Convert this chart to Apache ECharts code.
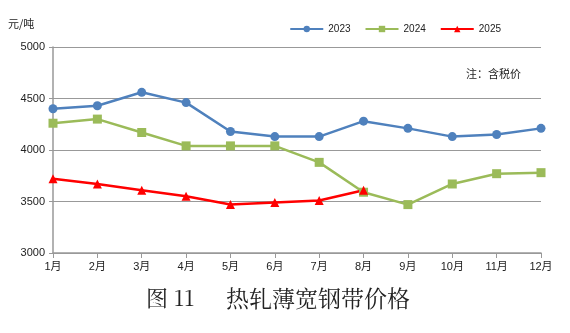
<!DOCTYPE html>
<html><head><meta charset="utf-8">
<script src="https://cdn.jsdelivr.net/npm/echarts@6/dist/echarts.min.js"></script>
<style>html,body{margin:0;padding:0;background:#fff}#c{width:570px;height:333px}</style>
</head><body><div id="c"></div>
<script>
const months = ['1月','2月','3月','4月','5月','6月','7月','8月','9月','10月','11月','12月'];
const s2023 = [4400,4430,4560,4460,4180,4130,4130,4280,4210,4130,4150,4210];
const s2024 = [4260,4300,4170,4040,4040,4040,3880,3590,3470,3670,3770,3780];
const s2025 = [3720,3670,3610,3550,3470,3490,3510,3610];
const chart = echarts.init(document.getElementById('c'));
const font = "'Liberation Sans','Noto Sans CJK SC',sans-serif";
function ser(name, data, color, symbol, size){
  return {name, type:'line', data, symbol, symbolSize:size, showSymbol:true,
    lineStyle:{color, width:2.5}, itemStyle:{color}, animation:false};
}
chart.setOption({
  animation:false,
  grid:{left:53, right:29, top:47, bottom:80},
  legend:{right:64, top:19, itemWidth:33, itemHeight:8, itemGap:14,
    textStyle:{fontSize:10, color:'#222', fontFamily:font},
    data:['2023','2024','2025']},
  graphic:[
    {type:'text', left:8, top:18, style:{text:'元/吨', fontSize:11, fill:'#222', fontFamily:"'Noto Sans CJK SC',sans-serif"}},
    {type:'text', left:466, top:68, style:{text:'注：含税价', fontSize:11, fill:'#222', fontFamily:"'Noto Sans CJK SC',sans-serif"}},
    {type:'text', left:146, top:287, style:{text:'图 11', fontSize:22, fill:'#222', fontFamily:"'Noto Serif CJK SC','Noto Sans CJK SC',serif"}},
    {type:'text', left:226, top:287, style:{text:'热轧薄宽钢带价格', fontSize:23, fill:'#222', fontFamily:"'Noto Serif CJK SC','Noto Sans CJK SC',serif"}}
  ],
  xAxis:{type:'category', data:months, boundaryGap:false,
    axisLine:{lineStyle:{color:'#999', width:1.5}},
    axisTick:{show:true, length:5, lineStyle:{color:'#999'}, alignWithLabel:true},
    axisLabel:{fontSize:11, color:'#222', margin:8, fontFamily:font}},
  yAxis:{type:'value', min:3000, max:5000, interval:500,
    axisLine:{show:true, lineStyle:{color:'#999', width:1.5}},
    axisTick:{show:true, length:4, lineStyle:{color:'#999'}},
    axisLabel:{fontSize:11, color:'#222', margin:8, fontFamily:font, formatter:v=>String(v)},
    splitLine:{lineStyle:{color:'#999', width:1}}},
  series:[
    ser('2023', s2023, '#4F81BD', 'circle', 9),
    ser('2024', s2024, '#9BBB59', 'rect', 9),
    ser('2025', s2025, '#FF0000', 'triangle', 9)
  ]
});
</script></body></html>
